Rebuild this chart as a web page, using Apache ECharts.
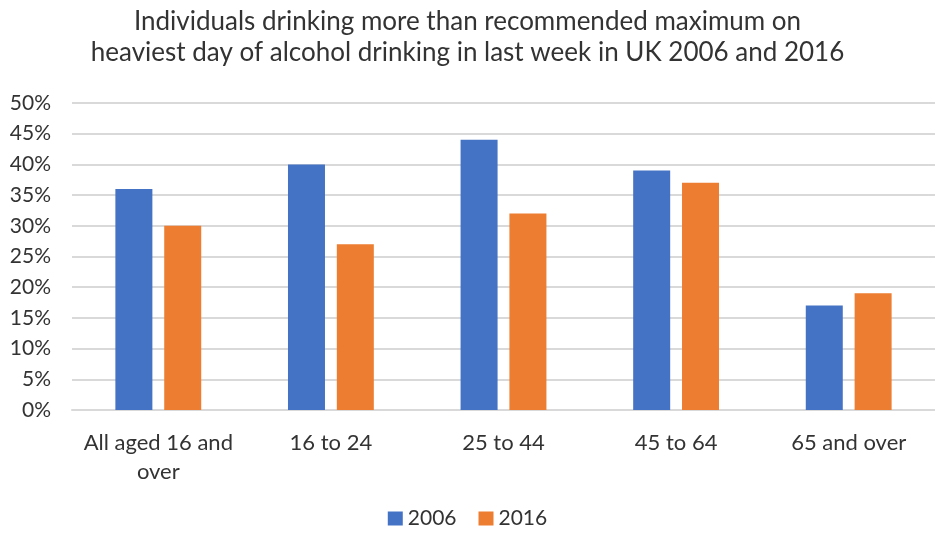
<!DOCTYPE html>
<html>
<head>
<meta charset="utf-8">
<script src="https://cdn.jsdelivr.net/npm/echarts@6/dist/echarts.min.js"></script>
<style>
  html, body { margin: 0; padding: 0; background: #fff; }
  #chart { width: 935px; height: 536px; }
</style>
</head>
<body>
<div id="chart"></div>
<script>
const categories = ['All aged 16 and\nover', '16 to 24', '25 to 44', '45 to 64', '65 and over'];
const values2006 = [36, 40, 44, 39, 17];
const values2016 = [30, 27, 32, 37, 19];
const yTicks = { min: 0, max: 50, interval: 5 };

const chart = echarts.init(document.getElementById('chart'));
const font = 'Lato, "Open Sans", sans-serif';
const textColor = '#333333';

chart.setOption({
  animation: false,
  title: {
    text: 'Individuals drinking more than recommended maximum on\nheaviest day of alcohol drinking in last week in UK 2006 and 2016',
    left: 'center',
    top: 1,
    textStyle: { fontFamily: font, fontSize: 26, fontWeight: 'normal', color: textColor, lineHeight: 31 }
  },
  legend: {
    bottom: 2,
    left: 'center',
    icon: 'rect',
    itemWidth: 15,
    itemHeight: 14,
    itemGap: 22,
    textStyle: { fontFamily: font, fontSize: 21, color: textColor },
    data: ['2006', '2016']
  },
  grid: { left: 72, right: 0, top: 103, bottom: 126, containLabel: false },
  xAxis: {
    type: 'category',
    data: categories,
    axisTick: { show: false },
    axisLine: { show: true, lineStyle: { color: '#d9d9d9', width: 2 } },
    axisLabel: { interval: 0, fontFamily: font, fontSize: 22, color: textColor, margin: 18, lineHeight: 29 }
  },
  yAxis: {
    type: 'value',
    min: yTicks.min,
    max: yTicks.max,
    interval: yTicks.interval,
    axisLine: { show: false },
    axisTick: { show: false },
    splitLine: { lineStyle: { color: '#d9d9d9', width: 2 } },
    axisLabel: { fontFamily: font, fontSize: 21, color: textColor, margin: 21, formatter: '{value}%' }
  },
  series: [
    { name: '2006', type: 'bar', data: values2006, barWidth: 37, barGap: '32%', itemStyle: { color: '#4472c4' } },
    { name: '2016', type: 'bar', data: values2016, barWidth: 37, itemStyle: { color: '#ed7d31' } }
  ]
});
</script>
</body>
</html>
